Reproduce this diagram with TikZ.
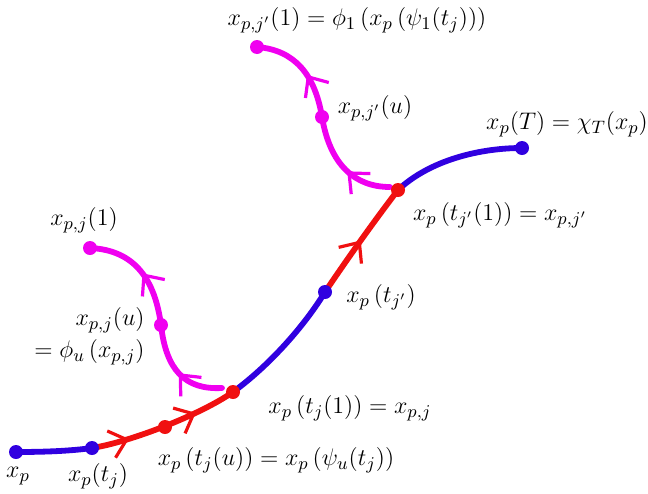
\documentclass[tikz,border=0pt]{standalone}
\usetikzlibrary{decorations.markings,arrows.meta}
\definecolor{cblue}{RGB}{48,0,224}
\definecolor{cred}{RGB}{240,16,16}
\definecolor{cmag}{RGB}{240,0,240}
\begin{document}
\begin{tikzpicture}[x=0.5pt,y=-0.5pt,
  font=\fontsize{12.8}{16}\selectfont,
  curve/.style={line width=2.9pt,line cap=round},
  bl/.style={curve,draw=cblue},
  rd/.style={curve,draw=cred},
  mg/.style={curve,draw=cmag},
  dotb/.style={circle,fill=cblue,inner sep=0pt,minimum size=7pt},
  dotr/.style={circle,fill=cred,inner sep=0pt,minimum size=7pt},
  dotm/.style={circle,fill=cmag,inner sep=0pt,minimum size=7pt},
  arrowat/.style={postaction={decorate,decoration={markings,
     mark=at position #1 with {\arrow{Straight Barb[length=8pt,width=14pt,line width=1.6pt]}}}}},
  lbl/.style={inner sep=1pt}
]
\useasboundingbox (0,0) rectangle (648,493);
% positions
\coordinate (p0) at (16,452);
\coordinate (p1) at (92,448);
\coordinate (p2) at (165,427);
\coordinate (p3) at (233,392);
\coordinate (p4) at (325,292);
\coordinate (p5) at (398,190);
\coordinate (p6) at (522,148);
\coordinate (m1s) at (222,388);
\coordinate (m1u) at (161,325);
\coordinate (m1e) at (90,248);
\coordinate (m2s) at (390,187);
\coordinate (m2u) at (322,117);
\coordinate (m2e) at (257,47);
% magenta curves
\draw[mg,arrowat=0.22,arrowat=0.72] (m1s) .. controls (185,390) and (166,370) .. (m1u)
   .. controls (155,280) and (135,250) .. (m1e);
\draw[mg,arrowat=0.22,arrowat=0.72] (m2s) .. controls (355,187) and (330,165) .. (m2u)
   .. controls (315,75) and (295,50) .. (m2e);
% main curve
\draw[bl] (p0) .. controls (45,452) and (70,451) .. (p1);
\draw[rd,arrowat=0.25,arrowat=0.72] (p1) .. controls (130,442) and (200,415) .. (p3);
\draw[bl] (p3) .. controls (270,365) and (305,325) .. (p4);
\draw[rd,arrowat=0.5] (p4) .. controls (350,255) and (375,220) .. (p5);
\draw[bl] (p5) .. controls (430,160) and (480,148) .. (p6);
% dots
\node[dotb] (d0) at (p0) {};
\node[dotb] (d1) at (p1) {};
\node[dotr] (d2) at (p2) {};
\node[dotr] (d3) at (p3) {};
\node[dotb] (d4) at (p4) {};
\node[dotr] (d5) at (p5) {};
\node[dotb] (d6) at (p6) {};
\node[dotm] (dm1u) at (m1u) {};
\node[dotm] (dm1e) at (m1e) {};
\node[dotm] (dm2u) at (m2u) {};
\node[dotm] (dm2e) at (m2e) {};
% labels
\node[lbl] (lxp) at (18,476) {$x_p$};
\node[lbl] (lxptj) at (98,476) {$x_p(t_j)$};
\node[lbl] (ltju) at (276,460) {$x_p\,\bigl(t_j(u)\bigr) = x_p\,\bigl(\psi_u(t_j)\bigr)$};
\node[lbl] (ltj1) at (350,408) {$x_p\,\bigl(t_j(1)\bigr) = x_{p,j}$};
\node[lbl] (ltjp) at (381,297) {$x_p\,\bigl(t_{j'}\bigr)$};
\node[lbl] (ltjp1) at (500,215) {$x_p\,\bigl(t_{j'}(1)\bigr) = x_{p,j'}$};
\node[lbl] (lT) at (567,124) {$x_p(T) = \chi_T(x_p)$};
\node[lbl] (lu2) at (375,108) {$x_{p,j'}(u)$};
\node[lbl] (ltop) at (357,20) {$x_{p,j'}(1) = \phi_1\,(x_p\,(\psi_1(t_j)))$};
\node[lbl] (lj1) at (84,220) {$x_{p,j}(1)$};
\node[lbl,align=right,anchor=east] (lju) at (147,336) {$x_{p,j}(u)$\\$=\phi_u\,(x_{p,j})$};
\end{tikzpicture}
\end{document}
